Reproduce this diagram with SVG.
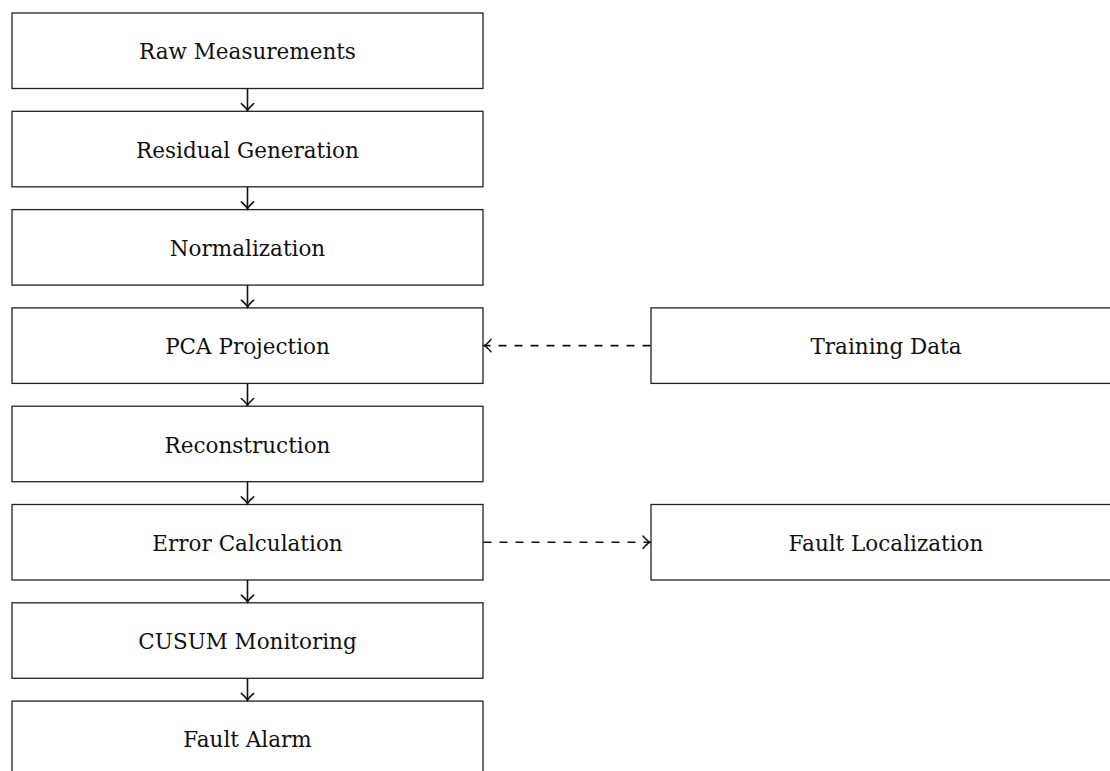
<svg xmlns="http://www.w3.org/2000/svg" width="1110" height="771" viewBox="0 0 1110 771">
<style>
.box{fill:#fff;stroke:#222;stroke-width:1.3}
.lbl{font-family:"DejaVu Serif","Liberation Serif",serif;font-size:21.5px;fill:#111;text-anchor:middle}
.arr{stroke:#111;stroke-width:1.6;fill:none}
.dash{stroke-dasharray:8 8}
</style>
<defs>
<marker id="to" markerWidth="16" markerHeight="16" refX="9.5" refY="8" orient="auto" markerUnits="userSpaceOnUse">
<path d="M2.5,1.8 Q6.5,6.6 9.5,8 Q6.5,9.4 2.5,14.2" fill="none" stroke="#111" stroke-width="1.5" stroke-linecap="round"/>
</marker>
</defs>
<rect width="1110" height="771" fill="#fff"/>
<g id="n1"><rect class="box" x="12" y="13" width="471" height="75.5"/><text class="lbl" x="247.5" y="59.3">Raw Measurements</text></g>
<g id="n2"><rect class="box" x="12" y="111.3" width="471" height="75.5"/><text class="lbl" x="247.5" y="157.6">Residual Generation</text></g>
<g id="n3"><rect class="box" x="12" y="209.6" width="471" height="75.5"/><text class="lbl" x="247.5" y="255.9">Normalization</text></g>
<g id="n4"><rect class="box" x="12" y="307.9" width="471" height="75.5"/><text class="lbl" x="247.5" y="354.2">PCA Projection</text></g>
<g id="n5"><rect class="box" x="12" y="406.2" width="471" height="75.5"/><text class="lbl" x="247.5" y="452.5">Reconstruction</text></g>
<g id="n6"><rect class="box" x="12" y="504.5" width="471" height="75.5"/><text class="lbl" x="247.5" y="550.8">Error Calculation</text></g>
<g id="n7"><rect class="box" x="12" y="602.8" width="471" height="75.5"/><text class="lbl" x="247.5" y="649.1">CUSUM Monitoring</text></g>
<g id="n8"><rect class="box" x="12" y="701.1" width="471" height="75.5"/><text class="lbl" x="247.5" y="747.4">Fault Alarm</text></g>
<g id="n9"><rect class="box" x="651" y="307.9" width="471" height="75.5"/><text class="lbl" x="886" y="354.2">Training Data</text></g>
<g id="n10"><rect class="box" x="651" y="504.5" width="471" height="75.5"/><text class="lbl" x="886" y="550.8">Fault Localization</text></g>
<g id="connectors">
<line class="arr" x1="247.5" y1="88.5" x2="247.5" y2="110.6" marker-end="url(#to)"/>
<line class="arr" x1="247.5" y1="186.8" x2="247.5" y2="208.9" marker-end="url(#to)"/>
<line class="arr" x1="247.5" y1="285.1" x2="247.5" y2="307.2" marker-end="url(#to)"/>
<line class="arr" x1="247.5" y1="383.4" x2="247.5" y2="405.5" marker-end="url(#to)"/>
<line class="arr" x1="247.5" y1="481.7" x2="247.5" y2="503.8" marker-end="url(#to)"/>
<line class="arr" x1="247.5" y1="580" x2="247.5" y2="602.1" marker-end="url(#to)"/>
<line class="arr" x1="247.5" y1="678.3" x2="247.5" y2="700.4" marker-end="url(#to)"/>
<line class="arr dash" x1="650.5" y1="345.6" x2="484" y2="345.6" marker-end="url(#to)"/>
<line class="arr dash" x1="483.5" y1="542.2" x2="650" y2="542.2" marker-end="url(#to)"/>
</g>
</svg>
